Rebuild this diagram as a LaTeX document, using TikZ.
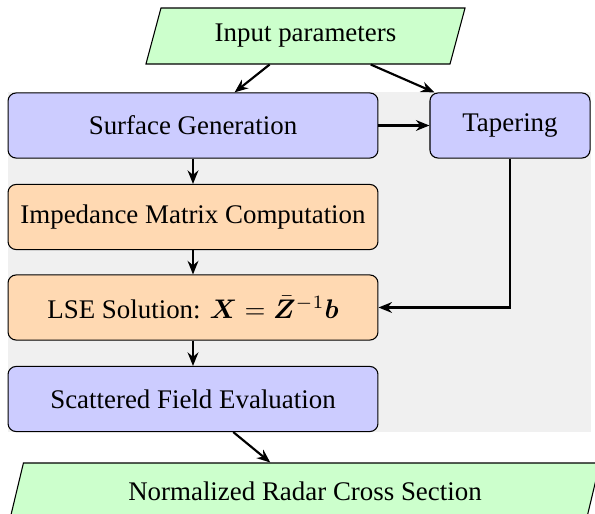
\documentclass[tikz,border=0pt]{standalone}
\usepackage{fontspec}
\setmainfont{Liberation Serif}
\usepackage{amsmath}
\usepackage{bm}
\usetikzlibrary{arrows.meta,positioning,shapes.geometric,backgrounds,fit}

\begin{document}
\begin{tikzpicture}[x=0.3717pt, y=-0.3717pt,
		block/.style={rectangle, rounded corners=3pt, draw=black, minimum height=24.2pt, align=center},
		bluebox/.style={block, fill=blue!20},
		orangebox/.style={block, fill=orange!30},
		io/.style={trapezium, trapezium left angle=70, trapezium right angle=110, trapezium stretches body, draw=black, fill=green!20, minimum height=20.8pt},
		flow/.style={-{Stealth[length=5pt,width=4pt]}, thick}]
		\useasboundingbox (0,0) rectangle (595,514);

		\node[io, minimum width=118.6pt] (input) at (305.5,36) {Input parameters};

		\node[bluebox, minimum width=137.5pt] (surf) at (193,125.5) {Surface Generation};
		\node[bluebox, minimum width=59.5pt] (taper) at (510,125.5) {Tapering};
		\node[orangebox, minimum width=137.5pt] (imp) at (193,217) {Impedance Matrix Computation};
		\node[orangebox, minimum width=137.5pt] (lse) at (193,307.5) {LSE Solution: $\bm{X} = \bar{\bm{Z}}^{-1}\bm{b}$};
		\node[bluebox, minimum width=137.5pt] (scat) at (193,399) {Scattered Field Evaluation};

		\node[io, minimum width=219.3pt] (rcs) at (305,491) {Normalized Radar Cross Section};

		\begin{scope}[on background layer]
			\node[fill=black!6, inner sep=0pt, fit=(surf)(taper)(scat)] (bg) {};
		\end{scope}

		\draw[flow] (input) -- (surf);
		\draw[flow] (input) -- (taper);
		\draw[flow] (surf) -- (taper);
		\draw[flow] (surf) -- (imp);
		\draw[flow] (imp) -- (lse);
		\draw[flow] (lse) -- (scat);
		\draw[flow] (taper) |- (lse);
		\draw[flow] (scat) -- (rcs);
	\end{tikzpicture}
\end{document}
